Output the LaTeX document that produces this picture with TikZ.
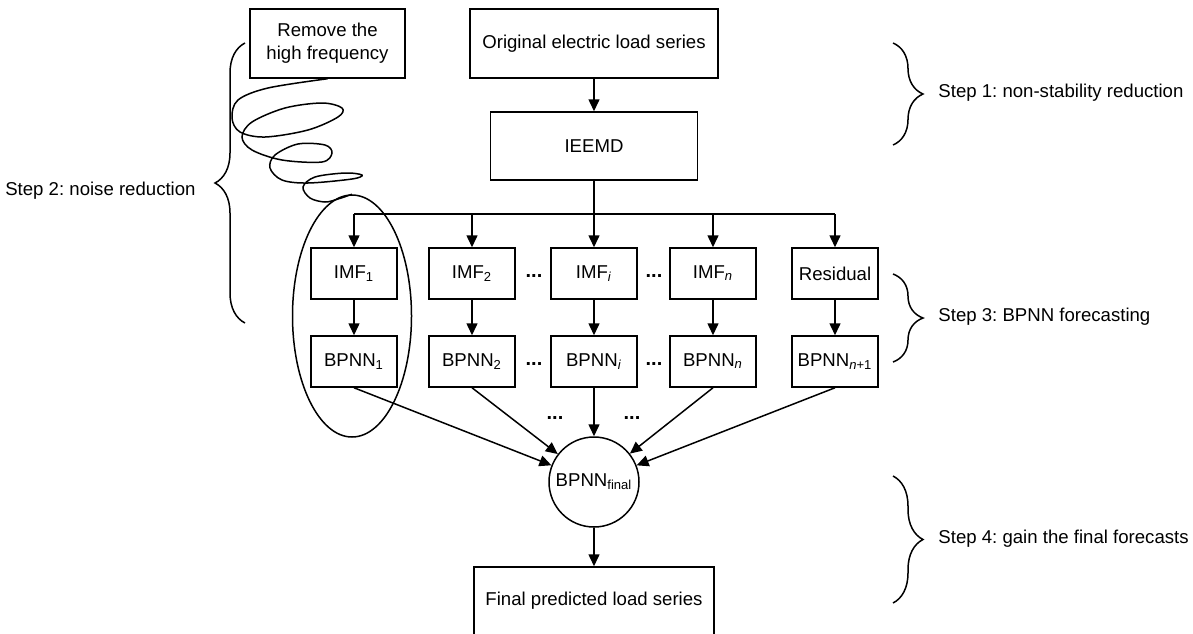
\documentclass[tikz,border=0pt]{standalone}
\usepackage{fontspec}
\setmainfont{Liberation Sans}
\usepackage{tikz}
\usetikzlibrary{shapes, arrows.meta, decorations.pathreplacing}
\frenchspacing

\tikzset{
    box/.style={draw, rectangle, line width=0.75pt, inner sep=0pt, minimum width=43pt, minimum height=25.5pt},
    arr/.style={-{Triangle[length=6pt, width=5.5pt]}, line width=0.75pt},
    brc/.style={decorate, decoration={brace, amplitude=15pt}, line width=0.75pt},
    dots/.style={inner sep=0pt, font=\bfseries}
}

\begin{document}
\begin{tikzpicture}[x=0.5pt, y=-0.5pt, font=\fontsize{9.3}{11.5}\selectfont, line width=0.75pt]
        \useasboundingbox (0,0) rectangle (1193,633);

        % top part
        \node[box, minimum width=77.5pt, minimum height=34.5pt, align=center] (rm) at (327.5, 43.5) {Remove the\\high frequency};
        \node[box, minimum width=124pt, minimum height=34.5pt] (orig) at (594, 43.5) {Original electric load series};
        \node[box, minimum width=103.5pt, minimum height=34pt] (ieemd) at (594, 146) {IEEMD};

        % IMF row
        \node[box] (imf1) at (354, 273.5) {IMF\textsubscript{1}};
        \node[box] (imf2) at (472, 273.5) {IMF\textsubscript{2}};
        \node[box] (imfi) at (594, 273.5) {IMF\textsubscript{\textit{i}}};
        \node[box] (imfn) at (713, 273.5) {IMF\textsubscript{\textit{n}}};
        \node[box] (res) at (835, 273.5) {Residual};

        % BPNN row
        \node[box] (bp1) at (354, 361.5) {BPNN\textsubscript{1}};
        \node[box] (bp2) at (472, 361.5) {BPNN\textsubscript{2}};
        \node[box] (bpi) at (594, 361.5) {BPNN\textsubscript{\textit{i}}};
        \node[box] (bpn) at (713, 361.5) {BPNN\textsubscript{\textit{n}}};
        \node[box] (bpr) at (835, 361.5) {BPNN\textsubscript{\textit{n}+1}};

        \node[dots] (d1) at (534, 276) {...};
        \node[dots] (d2) at (654, 276) {...};
        \node[dots] (d3) at (534, 364) {...};
        \node[dots] (d4) at (654, 364) {...};
        \node[dots] (d5) at (555, 418) {...};
        \node[dots] (d6) at (632, 418) {...};

        \node[circle, draw, inner sep=0pt, minimum size=45pt] (fin) at (594, 482) {BPNN\textsubscript{final}};
        \node[box, minimum width=120pt, minimum height=34pt] (out) at (594, 601) {Final predicted load series};

        \node[ellipse, draw, inner sep=0pt, minimum width=59.5pt, minimum height=121pt] (grp) at (352, 316) {};

        % connectors
        \coordinate (bus) at (594, 214);
        \draw[arr] (orig) -- (ieemd);
        \draw (ieemd.south) -- (bus);
        \draw (imf1.north |- bus) -- (res.north |- bus);
        \foreach \n in {imf1, imf2, imfi, imfn, res}
            \draw[arr] (\n.north |- bus) -- (\n.north);
        \draw[arr] (imf1) -- (bp1);
        \draw[arr] (imf2) -- (bp2);
        \draw[arr] (imfi) -- (bpi);
        \draw[arr] (imfn) -- (bpn);
        \draw[arr] (res) -- (bpr);
        \foreach \n in {bp1, bp2, bpi, bpn, bpr}
            \draw[arr] (\n.south) -- (fin);
        \draw[arr] (fin) -- (out);

        % the scribble
        \draw plot[smooth, tension=0.55] coordinates {(rm.south) (268,88) (238,100) (232,118) (240,132) (265,137) (308,130) (338,117) (342,108) (322,103) (285,108) (252,122) (242,137) (252,150) (282,160) (322,162) (332,153) (325,145) (298,144) (275,155) (270,168) (282,180) (308,183) (352,179) (362,175) (345,173) (315,177) (303,187) (310,198) (325,202) (338,199) (grp.north)};

        % steps
        \draw[brc] (893, 43) -- (893, 145);
        \draw[brc] (245, 323) -- (245, 43);
        \draw[brc] (893, 274) -- (893, 362);
        \draw[brc] (893, 476) -- (893, 603);
        \node[anchor=west] (s1) at (931, 93) {Step 1: non-stability reduction};
        \node[anchor=east] (s2) at (203, 191) {Step 2: noise reduction};
        \node[anchor=west] (s3) at (931, 317) {Step 3: BPNN forecasting};
        \node[anchor=west] (s4) at (931, 539) {Step 4: gain the final forecasts};
\end{tikzpicture}
\end{document}
